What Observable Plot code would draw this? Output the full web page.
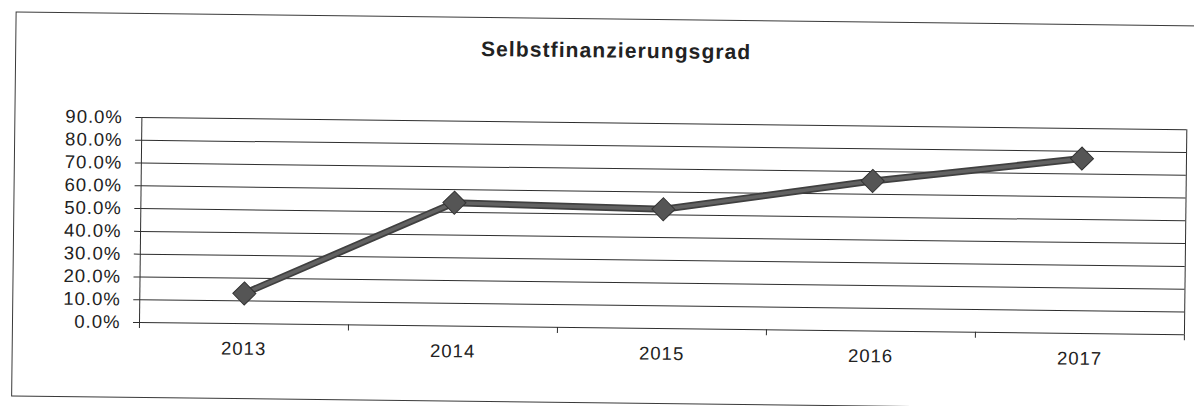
<!DOCTYPE html>
<html>
<head>
<meta charset="utf-8">
<script src="https://cdn.jsdelivr.net/npm/d3@7"></script>
<script src="https://cdn.jsdelivr.net/npm/@observablehq/plot@0.6"></script>
<style>
  html, body { margin: 0; padding: 0; background: #fff; overflow: hidden; }
  #wrap { position: absolute; left: 0; top: 0; width: 1194px; height: 406px;
          transform-origin: 139px 322px; transform: rotate(0.67deg); }
  #frame { position: absolute; left: 12px; top: 13px; width: 1250px; height: 385px;
           border: 1.3px solid #3a3a3a; box-sizing: border-box; }
  #title { position: absolute; left: 413px; width: 400px; top: 34px; text-align: center;
           font: bold 21px "Liberation Sans", Arial, sans-serif; line-height: 21px;
           letter-spacing: 1.1px; color: #222; }
  #chart { position: absolute; left: 0; top: 0; }
  #chart svg text { letter-spacing: 1px; }
</style>
</head>
<body>
<div id="wrap">
  <div id="frame"></div>
  <div id="title"></div>
  <div id="chart"></div>
</div>
<script>
const chartTitle = "Selbstfinanzierungsgrad";
const years = [2013, 2014, 2015, 2016, 2017];
const values = [0.133, 0.542, 0.524, 0.659, 0.768];
const yTicks = [0, 0.1, 0.2, 0.3, 0.4, 0.5, 0.6, 0.7, 0.8, 0.9];

const data = years.map((year, i) => ({year, value: values[i]}));
const xBounds = [years[0] - 0.5, ...years.map(y => y + 0.5)];

document.getElementById("title").textContent = chartTitle;

const chart = Plot.plot({
  width: 1194,
  height: 406,
  marginLeft: 139,
  marginRight: 10,
  marginTop: 117,
  marginBottom: 84,
  style: {fontFamily: "'Liberation Sans', Arial, sans-serif", fontSize: "18.5px", color: "#222", background: "transparent"},
  x: {domain: [xBounds[0], xBounds[xBounds.length - 1]], axis: null},
  y: {domain: [0, 0.9], axis: null},
  marks: [
    Plot.gridY(yTicks, {stroke: "#2e2e2e", strokeOpacity: 1, strokeWidth: 1}),
    Plot.axisY(yTicks, {label: null, tickSize: 6, tickPadding: 13, tickFormat: d3.format(".1%"), stroke: "#2e2e2e", fill: "#222", fontSize: 18.5}),
    Plot.ruleX([xBounds[0], xBounds[xBounds.length - 1]], {y1: 0, y2: 0.9, stroke: "#2e2e2e"}),
    Plot.axisX(xBounds, {label: null, tickSize: 6, tickFormat: () => "", stroke: "#2e2e2e"}),
    Plot.axisX(years, {label: null, tickSize: 0, tickPadding: 18, tickFormat: d3.format("d"), fill: "#222", fontSize: 18.5}),
    Plot.line(data, {x: "year", y: "value", stroke: "#404040", strokeWidth: 7, strokeLinejoin: "round"}),
    Plot.line(data, {x: "year", y: "value", stroke: "#626262", strokeWidth: 3.5, strokeLinejoin: "round"}),
    Plot.dot(data, {x: "year", y: "value", symbol: "diamond2", r: 10.4, fill: "#555", stroke: "#333", strokeWidth: 1})
  ]
});
document.getElementById("chart").appendChild(chart);
</script>
</body>
</html>
